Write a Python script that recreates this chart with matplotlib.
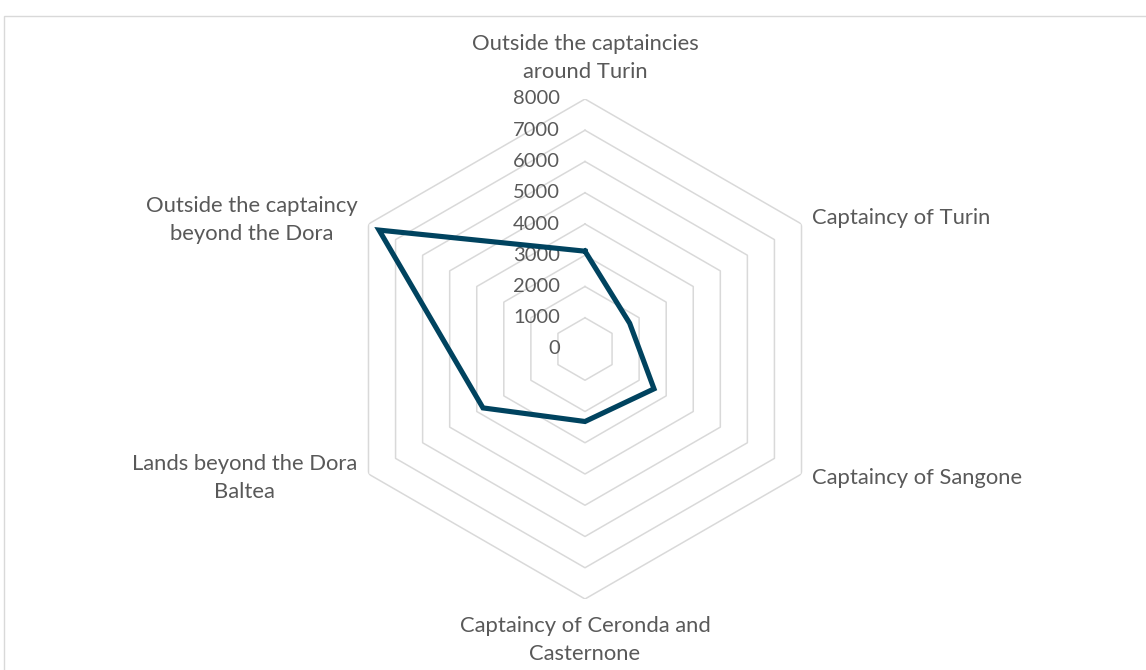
import numpy as np
import matplotlib.pyplot as plt
from matplotlib.transforms import offset_copy
from matplotlib.patches import Rectangle

categories = ["Outside the captaincies\naround Turin",
              "Captaincy of Turin",
              "Captaincy of Sangone",
              "Captaincy of Ceronda and\nCasternone",
              "Lands beyond the Dora\nBaltea",
              "Outside the captaincy\nbeyond the Dora"]
values = [3130, 1650, 2550, 2320, 3770, 7610]
levels = [0, 1000, 2000, 3000, 4000, 5000, 6000, 7000, 8000]

line_color = "#00435f"
grid_color = "#d9d9d9"
text_color = "#595959"
plt.rcParams["font.family"] = ["Lato", "DejaVu Sans"]
fs_tick = 14.5
fs_cat = 15.8

fig = plt.figure(figsize=(11.46, 6.70), dpi=100)
# chart area frame
fig.patches.append(Rectangle((4 / 1146, -0.1), 1.2, (654 / 670) + 0.1, transform=fig.transFigure,
                             fill=False, edgecolor=grid_color, linewidth=1.0))

ax = fig.add_axes([335 / 1146, 71 / 670, 500 / 1146, 500 / 670], projection="polar")
ax.set_theta_offset(np.pi / 2)
ax.set_theta_direction(-1)
ax.set_ylim(0, levels[-1])
ax.axis("off")

n = len(categories)
theta = np.arange(n) * 2 * np.pi / n
theta_c = np.append(theta, theta[0])

# hexagonal gridlines
for lv in levels[1:]:
    ax.plot(theta_c, [lv] * (n + 1), color=grid_color, lw=1.1, zorder=1)

ax.plot(theta_c, values + values[:1], color=line_color, lw=3.7, solid_joinstyle="miter", zorder=3)

# radial value labels, left of the vertical axis
tick_tr = offset_copy(ax.transData, fig=fig, x=-25, y=0, units="dots")
for lv in levels:
    ax.text(0, lv, str(lv), transform=tick_tr, ha="right", va="center",
            fontsize=fs_tick, color=text_color, zorder=2)

# category labels around the outer ring
placements = [(0, 17, "center", "bottom"),
              (10, 6, "left", "center"),
              (10, -4, "left", "center"),
              (0, -17, "center", "top"),
              (-11, -4, "right", "center"),
              (-11, 4, "right", "center")]
for t, lab, (dx, dy, ha, va) in zip(theta, categories, placements):
    tr = offset_copy(ax.transData, fig=fig, x=dx, y=dy, units="dots")
    ax.text(t, levels[-1], lab, transform=tr, ha=ha, va=va, multialignment="center",
            fontsize=fs_cat, color=text_color, linespacing=1.5)

fig.savefig("out.png", dpi=100)
